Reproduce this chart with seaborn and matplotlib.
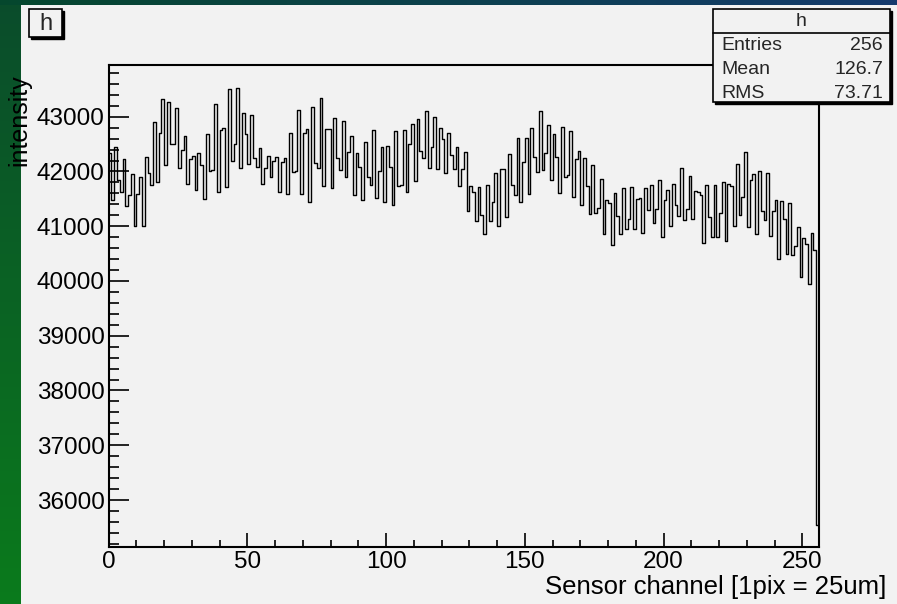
import numpy as np
import pandas as pd
import matplotlib
matplotlib.use('Agg')
import matplotlib.pyplot as plt
import seaborn as sns
from matplotlib.ticker import MultipleLocator, FormatStrFormatter
from matplotlib.patches import Rectangle

channels = list(range(256))
intensity = [
    42330, 41480, 42450, 41840, 41630, 42230, 41370, 41570, 41950, 41010,
    41580, 41900, 41010, 42260, 41970, 41760, 42910, 41800, 42710, 43320,
    42120, 43270, 42510, 42510, 43150, 42060, 42400, 42640, 41780, 42230,
    42280, 41660, 42340, 42120, 41500, 42680, 42010, 42030, 43230, 41620,
    42760, 42790, 41720, 43500, 42200, 42500, 43530, 42060, 43060, 42680,
    42130, 43030, 42250, 42090, 42420, 41780, 42070, 42290, 41900, 42200,
    42270, 41620, 42170, 42240, 41590, 42710, 41990, 42010, 43120, 41590,
    42700, 42770, 41440, 43170, 42160, 42070, 43350, 41740, 42770, 42770,
    41690, 42980, 42250, 42020, 42930, 41890, 42360, 42640, 41570, 42340,
    42090, 41470, 42540, 41890, 41760, 42750, 41510, 42000, 42440, 41440,
    42470, 42080, 41390, 42740, 41740, 41760, 42760, 41620, 42510, 42860,
    41830, 42950, 42370, 42240, 43110, 42060, 42450, 43000, 42040, 42790,
    42590, 41970, 42700, 42300, 42040, 42440, 41740, 42040, 42360, 41270,
    41730, 41620, 41100, 41720, 41200, 40850, 41760, 41100, 41440, 41970,
    41010, 42040, 42040, 41160, 42320, 41760, 41570, 42620, 41440, 42170,
    42610, 41580, 42790, 42270, 41990, 43110, 42030, 42340, 42840, 41840,
    42680, 42260, 41600, 42820, 41900, 41940, 42740, 41540, 42230, 42370,
    41380, 42250, 41740, 41220, 42120, 41250, 41330, 41860, 40860, 41470,
    41430, 40650, 41600, 41190, 40850, 41690, 40950, 41140, 41710, 40950,
    41500, 41510, 40870, 41690, 41300, 41750, 41050, 41310, 41840, 40810,
    41470, 41660, 41010, 41770, 41390, 41190, 42060, 41110, 41310, 41920,
    41140, 41650, 41630, 41570, 40690, 41760, 41170, 40810, 41750, 40810,
    41250, 41800, 40730, 41780, 41730, 41010, 42130, 41210, 41530, 42360,
    40990, 41840, 41950, 40860, 42010, 41280, 41110, 41980, 40820, 41280,
    41480, 40410, 41460, 41140, 40490, 41420, 40470, 40630, 40980, 40080,
    40780, 40680, 39950, 40880, 40570, 35540,
]
stat_labels = ['Entries', 'Mean', 'RMS']
stat_values = ['256', '126.7', '73.71']

W, H = 897, 604
BG = '#f2f2f2'


def fx(px):
    return px / W


def fy(py):
    return 1 - py / H


sns.set_style('ticks')
plt.rcParams['font.family'] = ['Liberation Sans', 'DejaVu Sans']

fig = plt.figure(figsize=(W / 100, H / 100), dpi=100, facecolor=BG)

# slide background strips (green left edge, dark top edge)
left = fig.add_axes([0, 0, fx(20), 1])
left.imshow(np.linspace(0, 1, 50).reshape(-1, 1, 1) * np.array([0.0, 0.18, -0.06]) + np.array([0.04, 0.30, 0.17]),
            aspect='auto', extent=(0, 1, 0, 1))
left.set_axis_off()
top = fig.add_axes([0, fy(5), 1, 5 / H])
top.imshow(np.linspace(0, 1, 100).reshape(1, -1, 1) * np.array([0.06, -0.05, 0.25]) + np.array([0.02, 0.28, 0.18]),
           aspect='auto', extent=(0, 1, 0, 1))
top.set_axis_off()

df = pd.DataFrame({'channel': np.array(channels) + 0.5, 'intensity': intensity})

ax = fig.add_axes([fx(108.7), fy(547), fx(819 - 108.7), (547 - 65) / H])
ax.set_facecolor(BG)
sns.histplot(data=df, x='channel', weights='intensity', bins=256, binrange=(0, 256),
             element='step', fill=False, color='black', linewidth=1.0, ax=ax)
ax.set_xlim(0, 256)
ax.set_ylim(35142, 43944)

ax.xaxis.set_major_locator(MultipleLocator(50))
ax.xaxis.set_minor_locator(MultipleLocator(10))
ax.yaxis.set_major_locator(MultipleLocator(1000))
ax.yaxis.set_minor_locator(MultipleLocator(200))
ax.yaxis.set_major_formatter(FormatStrFormatter('%d'))
ax.tick_params(axis='both', which='both', direction='in', top=False, right=False,
               color='black', width=1.2, labelsize=17.5, labelcolor='black')
ax.tick_params(axis='y', which='major', length=14.5, pad=3)
ax.tick_params(axis='y', which='minor', length=7.5)
ax.tick_params(axis='x', which='major', length=10, pad=3)
ax.tick_params(axis='x', which='minor', length=5)
for s in ax.spines.values():
    s.set_color('black')
    s.set_linewidth(1.5)

ax.set_xlabel('Sensor channel [1pix = 25um]', fontsize=18.5, color='black', loc='right')
ax.xaxis.set_label_coords((886 - 108.7) / (819 - 108.7), (547 - 575) / 482)
ax.set_ylabel('intensity', fontsize=18, color='black', loc='top')
ax.yaxis.set_label_coords((31 - 108.7) / (819 - 108.7), (547 - 74) / 482)

# title box "h"
fig.patches.append(Rectangle((fx(31), fy(39)), fx(33), 28 / H, transform=fig.transFigure,
                             facecolor='black', edgecolor='black', zorder=5))
fig.patches.append(Rectangle((fx(29), fy(37)), fx(33), 28 / H, transform=fig.transFigure,
                             facecolor=BG, edgecolor='black', linewidth=1.2, zorder=6))
fig.text(fx(45.5), fy(23.5), 'h', fontsize=17, ha='center', va='center', zorder=7)

# statistics box
fig.patches.append(Rectangle((fx(715), fy(104)), fx(177), 93 / H, transform=fig.transFigure,
                             facecolor='black', edgecolor='black', zorder=5))
fig.patches.append(Rectangle((fx(713), fy(102)), fx(177), 93 / H, transform=fig.transFigure,
                             facecolor=BG, edgecolor='black', linewidth=1.2, zorder=6))
fig.lines.append(plt.Line2D([fx(713), fx(890)], [fy(33), fy(33)], transform=fig.transFigure,
                            color='black', linewidth=1.2, zorder=7))
fig.text(fx(801), fy(21), 'h', fontsize=14, ha='center', va='center', zorder=7)
for i, (lab, val) in enumerate(zip(stat_labels, stat_values)):
    yy = fy(45 + i * 24)
    fig.text(fx(721), yy, lab, fontsize=14, ha='left', va='center', zorder=7)
    fig.text(fx(883), yy, val, fontsize=14, ha='right', va='center', zorder=7)

fig.savefig('out.png', dpi=100, facecolor=BG)
